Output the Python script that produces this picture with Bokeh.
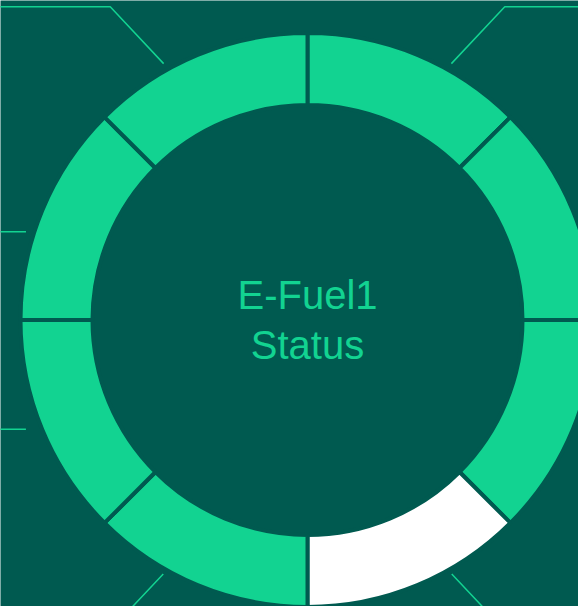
import math
from bokeh.plotting import figure
from bokeh.models import Range1d, ColumnDataSource
from bokeh.core.properties import value
from bokeh.embed import file_html
from bokeh.resources import INLINE

# ---------------- data ----------------
segments = ["Unit 1", "Unit 2", "Unit 3", "Unit 4", "Unit 5", "Unit 6", "Unit 7", "Unit 8"]
seg_values = [1, 1, 1, 1, 1, 1, 1, 1]
seg_status = ["ok", "ok", "ok", "off", "ok", "ok", "ok", "ok"]
title_lines = ["E-Fuel1", "Status"]

# ---------------- style ----------------
BG = "#005a50"
GREEN = "#12d391"
STATUS_COLORS = {"ok": GREEN, "off": "#ffffff"}

W, H = 578, 606
CX, CY = 307, 286.5          # donut centre (data units = px, y up)
R_OUT, R_IN = 287, 215
GAP = 4

# decorative leader lines: anchor angle (deg, clockwise from top), anchor radius, first leg length
leader_theta = [29.3, 72.6, 111.2, 150.4, 209.6, 248.8, 287.4, 330.7]
leader_r = [294, 295, 302, 292, 292, 302, 295, 294]
leader_leg = [78, 0, 0, 80, 80, 0, 0, 78]

p = figure(width=W, height=H, output_backend="svg", toolbar_location=None,
           x_range=Range1d(0, W), y_range=Range1d(0, H),
           min_border=0, background_fill_color=BG, border_fill_color=BG,
           outline_line_color=None)
p.axis.visible = False
p.grid.visible = False

# donut
total = sum(seg_values)
starts, ends, colors = [], [], []
acc = 0
for v, s in zip(seg_values, seg_status):
    a0 = math.pi / 2 - 2 * math.pi * acc / total
    acc += v
    a1 = math.pi / 2 - 2 * math.pi * acc / total
    starts.append(a1)
    ends.append(a0)
    colors.append(STATUS_COLORS[s])

src = ColumnDataSource(dict(seg=segments, val=seg_values, start=starts, end=ends, color=colors))
p.annular_wedge(x=CX, y=CY, inner_radius=R_IN, outer_radius=R_OUT,
                start_angle="start", end_angle="end", fill_color="color",
                line_color=BG, line_width=GAP, source=src)

# leader lines
for th, r, leg in zip(leader_theta, leader_r, leader_leg):
    t = math.radians(th)
    x0 = CX + r * math.sin(t)
    y0 = CY + r * math.cos(t)
    sx = 1 if math.sin(t) > 0 else -1
    sy = 1 if math.cos(t) > 0 else -1
    ang = math.radians(46.8)
    x1 = x0 + sx * leg * math.cos(ang)
    y1 = y0 + sy * leg * math.sin(ang)
    x2 = x1 + sx * 400
    p.line([x0, x1, x2], [y0, y1, y1], line_color=GREEN, line_width=1.5)

# centre title
p.text(x=[CX, CX], y=[CY + 25.2, CY - 24.5], text=title_lines,
       text_align="center", text_baseline="alphabetic",
       text_font=value("Liberation Sans"), text_font_size="40px", text_color=GREEN)

open("out.html", "w").write(file_html(p, INLINE))
